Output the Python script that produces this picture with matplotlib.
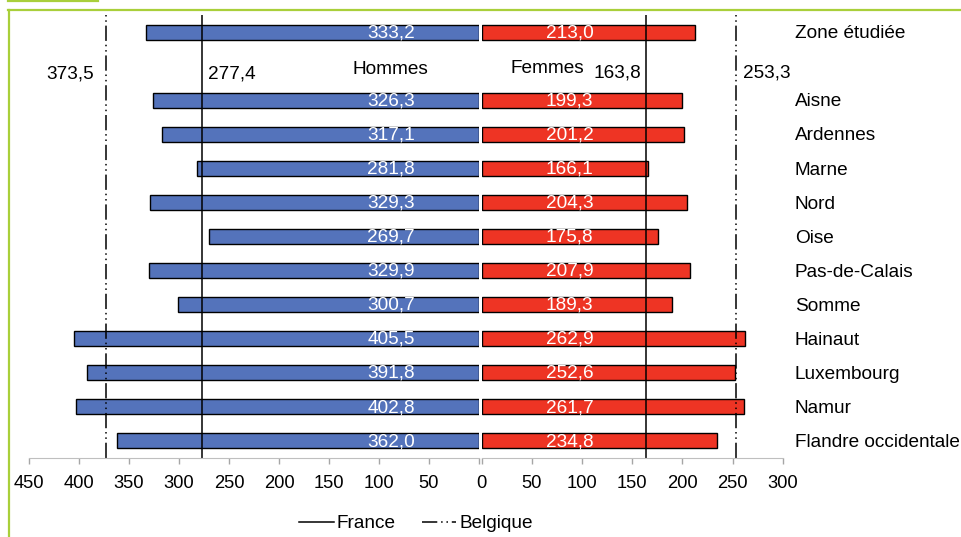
"""
Taux standardises par sexe : zone etudiee, departements francais et provinces belges.
"""

import matplotlib

matplotlib.use("Agg")

import matplotlib.pyplot as plt
from matplotlib.lines import Line2D

plt.rcParams["font.family"] = ["Liberation Sans", "DejaVu Sans"]
plt.rcParams["font.size"] = 13.7

ZONES = [
    "Zone étudiée",
    "Aisne",
    "Ardennes",
    "Marne",
    "Nord",
    "Oise",
    "Pas-de-Calais",
    "Somme",
    "Hainaut",
    "Luxembourg",
    "Namur",
    "Flandre occidentale",
]
HOMMES = [333.2, 326.3, 317.1, 281.8, 329.3, 269.7, 329.9, 300.7, 405.5, 391.8, 402.8, 362.0]
FEMMES = [213.0, 199.3, 201.2, 166.1, 204.3, 175.8, 207.9, 189.3, 262.9, 252.6, 261.7, 234.8]

REF_HOMMES = {"France": 277.4, "Belgique": 373.5}
REF_FEMMES = {"France": 163.8, "Belgique": 253.3}

LEFT_TICKS = [450, 400, 350, 300, 250, 200, 150, 100, 50, 0]
RIGHT_TICKS = [0, 50, 100, 150, 200, 250, 300]

BLUE = "#5473BB"
RED = "#EE3424"
GREEN = "#A9CF3A"
BELGIQUE_STYLE = (0, (10, 2.5, 1, 2.5, 1, 2.5))

W, H = 962, 537
FS = 13.7


def fmt(v):
    return f"{v:.1f}".replace(".", ",")


def px_box(x0, x1, y0, y1):
    """Axes rectangle from pixel coords (y measured from top)."""
    return [x0 / W, 1 - y1 / H, (x1 - x0) / W, (y1 - y0) / H]


# slot 1 stays empty: it carries the Hommes / Femmes captions
ypos = [0] + list(range(2, len(ZONES) + 1))

fig = plt.figure(figsize=(W / 100, H / 100), dpi=100)
ax_l = fig.add_axes(px_box(29, 479, 15, 458))
ax_r = fig.add_axes(px_box(481.7, 782.7, 15, 458), sharey=ax_l)

ax_l.barh(ypos, HOMMES, height=0.44, color=BLUE, edgecolor="black", linewidth=1.0)
ax_r.barh(ypos, FEMMES, height=0.44, color=RED, edgecolor="black", linewidth=1.0)

ax_l.set_xlim(450, 0)
ax_r.set_xlim(0, 300)
ax_l.set_ylim(len(ZONES) + 0.5, -0.5)

for y, v in zip(ypos, HOMMES):
    ax_l.text(64, y + 0.02, fmt(v), ha="right", va="center", color="white", fontsize=FS)
for y, v in zip(ypos, FEMMES):
    ax_r.text(64, y + 0.02, fmt(v), ha="left", va="center", color="white", fontsize=FS)

for y, name in zip(ypos, ZONES):
    ax_r.text(312, y + 0.05, name, ha="left", va="center", fontsize=FS, clip_on=False)

# reference lines
ax_l.axvline(REF_HOMMES["France"], color="black", lw=1.1)
ax_l.axvline(REF_HOMMES["Belgique"], color="black", lw=1.1, linestyle=BELGIQUE_STYLE)
ax_r.axvline(REF_FEMMES["France"], color="black", lw=1.1)
ax_r.axvline(REF_FEMMES["Belgique"], color="black", lw=1.1, linestyle=BELGIQUE_STYLE)

ax_l.text(REF_HOMMES["Belgique"] + 12, 1.22, fmt(REF_HOMMES["Belgique"]), ha="right", va="center")
ax_l.text(REF_HOMMES["France"] - 6, 1.24, fmt(REF_HOMMES["France"]), ha="left", va="center")
ax_r.text(REF_FEMMES["France"] - 5, 1.21, fmt(REF_FEMMES["France"]), ha="right", va="center")
ax_r.text(REF_FEMMES["Belgique"] + 7, 1.19, fmt(REF_FEMMES["Belgique"]), ha="left", va="center")

ax_l.text(89, 1.1, "Hommes", ha="center", va="center")
ax_r.text(65, 1.08, "Femmes", ha="center", va="center")

for ax in (ax_l, ax_r):
    for side in ("top", "left", "right"):
        ax.spines[side].set_visible(False)
    ax.spines["bottom"].set_color("#bfbfbf")
    ax.tick_params(axis="y", left=False, labelleft=False, right=False)
    ax.tick_params(axis="x", colors="#a6a6a6", labelcolor="black", length=4, width=1,
                   pad=8, labelsize=13.2)

ax_l.set_xticks(LEFT_TICKS)
ax_l.set_xticklabels([str(t) if t else "" for t in LEFT_TICKS])
ax_r.set_xticks(RIGHT_TICKS)
ax_r.set_xticklabels([str(t) for t in RIGHT_TICKS])

handles = [
    Line2D([], [], color="black", lw=1.1),
    Line2D([], [], color="black", lw=1.1, linestyle=BELGIQUE_STYLE),
]
fig.legend(handles, ["France", "Belgique"], loc="center", ncol=2,
           bbox_to_anchor=(416 / W, 1 - 523.5 / H), frameon=False, fontsize=FS,
           handlelength=1.8, handletextpad=0.15, columnspacing=1.4)

# green frame of the surrounding document
fig.add_artist(Line2D([8 / W, 1], [1 - 10 / H] * 2, color=GREEN, lw=1.6,
                      transform=fig.transFigure))
fig.add_artist(Line2D([8.5 / W] * 2, [0, 1 - 10 / H], color=GREEN, lw=1.6,
                      transform=fig.transFigure))
fig.add_artist(Line2D([8 / W, 98 / W], [1 - 0.5 / H] * 2, color=GREEN, lw=1.6,
                      transform=fig.transFigure))

fig.savefig("out.png", dpi=100)
